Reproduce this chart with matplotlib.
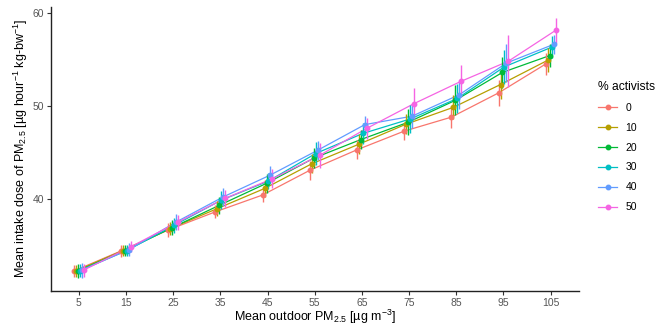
import numpy as np
import matplotlib.pyplot as plt

plt.rcParams['font.family'] = ['Liberation Sans', 'DejaVu Sans']
plt.rcParams['mathtext.fontset'] = 'custom'
plt.rcParams['mathtext.rm'] = 'Liberation Sans'
plt.rcParams['mathtext.it'] = 'Liberation Sans:italic'
plt.rcParams['mathtext.bf'] = 'Liberation Sans:bold'

# outdoor PM2.5 levels and % activists groups
pm_levels = [5, 15, 25, 35, 45, 55, 65, 75, 85, 95, 105]
groups = ['0', '10', '20', '30', '40', '50']
colors = ['#F8766D', '#B79F00', '#00BA38', '#00BFC4', '#619CFF', '#F564E3']

# mean intake dose per group
dose_0 = [32.3, 34.45, 36.7, 38.65, 40.45, 43.1, 45.3, 47.3, 48.8, 51.4, 54.5]
dose_10 = [32.3, 34.5, 36.85, 39.0, 41.15, 43.8, 45.9, 48.05, 49.85, 52.3, 54.9]
dose_20 = [32.3, 34.5, 36.95, 39.35, 41.7, 44.4, 46.4, 48.25, 50.6, 53.6, 55.4]
dose_30 = [32.35, 34.5, 37.2, 39.9, 41.95, 44.9, 47.05, 48.6, 50.8, 54.2, 56.3]
dose_40 = [32.4, 34.6, 37.55, 40.25, 42.6, 45.25, 48.0, 48.9, 51.2, 54.6, 56.6]
dose_50 = [32.4, 34.9, 37.55, 40.1, 42.2, 44.7, 47.6, 50.25, 52.65, 54.8, 58.1]

# half widths of the error bars
err_0 = [0.6, 0.6, 0.7, 0.7, 0.8, 1.0, 1.0, 0.9, 1.2, 1.4, 1.2]
err_10 = [0.6, 0.6, 0.7, 0.8, 0.9, 1.0, 1.1, 1.1, 1.3, 1.6, 1.3]
err_20 = [0.7, 0.6, 0.8, 0.9, 1.0, 1.1, 1.0, 1.4, 1.6, 1.7, 1.2]
err_30 = [0.7, 0.6, 0.8, 1.0, 0.9, 1.2, 1.1, 1.5, 1.6, 1.8, 1.2]
err_40 = [0.8, 0.7, 0.9, 1.0, 1.0, 1.0, 0.9, 1.3, 1.5, 2.0, 1.0]
err_50 = [0.7, 0.6, 0.8, 0.9, 1.0, 1.3, 1.1, 1.7, 1.7, 2.8, 1.3]

doses = [dose_0, dose_10, dose_20, dose_30, dose_40, dose_50]
errs = [err_0, err_10, err_20, err_30, err_40, err_50]

fig = plt.figure(figsize=(6.59, 3.27), dpi=100)
ax = fig.add_axes([0.077, 0.111, 0.802, 0.869])

dodge = 2.5
n = len(groups)
for i, (g, c, y, e) in enumerate(zip(groups, colors, doses, errs)):
    x = np.array(pm_levels) + (i - (n - 1) / 2) * dodge / n
    ax.plot(x, y, color=c, linewidth=0.9, zorder=2)
    ax.vlines(x, np.array(y) - np.array(e), np.array(y) + np.array(e),
              color=c, linewidth=1.0, zorder=3)
    ax.plot(x, y, 'o', color=c, markersize=3.2, zorder=4)
    ax.plot([], [], color=c, marker='o', markersize=3.2, linewidth=0.9, label=g)

ax.set_xlim(-0.93, 111.06)
ax.set_ylim(30.19, 60.66)
ax.set_xticks(pm_levels)
ax.set_yticks([40, 50, 60])

for s in ['top', 'right']:
    ax.spines[s].set_visible(False)
for s in ['left', 'bottom']:
    ax.spines[s].set_linewidth(1.0)
    ax.spines[s].set_color('#222222')
ax.tick_params(axis='both', labelsize=7.5, labelcolor='#555555', color='#333333',
               length=3, width=0.8, pad=2)

ax.set_xlabel(r'Mean outdoor PM$_{2.5}$ [µg m$^{-3}$]', fontsize=9, labelpad=0)
ax.set_ylabel(r'Mean intake dose of PM$_{2.5}$ [µg hour$^{-1}$ kg-bw$^{-1}$]',
              fontsize=9, labelpad=2)

leg = ax.legend(title='% activists', loc='upper left', bbox_to_anchor=(1.022, 0.764),
                frameon=False, fontsize=7.5, title_fontsize=8.7, handlelength=1.8,
                labelspacing=0.95, alignment='left', borderaxespad=0.3)

fig.savefig('out.png', dpi=100)
